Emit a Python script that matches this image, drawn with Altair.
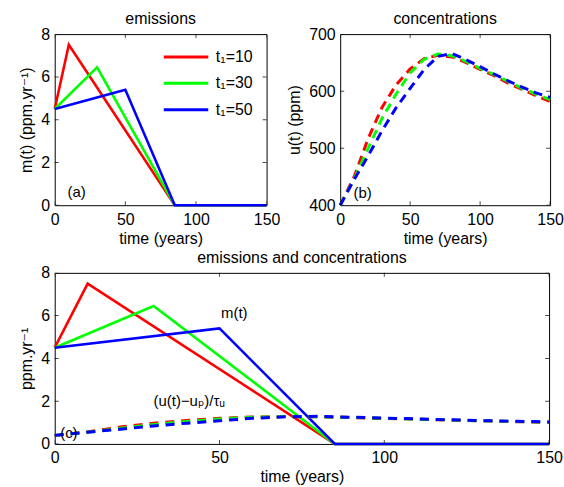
import altair as alt
import pandas as pd

FONT = "Liberation Sans, Arial, DejaVu Sans"

# ---------------- data ----------------
series = ["t₁=10", "t₁=30", "t₁=50"]
colors = ["#ff0000", "#00ff00", "#0000ff"]

# emissions m(t): start, peak at t1, zero at 85, zero until 150
em_years_10 = [0, 10, 85, 150]
em_years_30 = [0, 30, 85, 150]
em_years_50 = [0, 50, 85, 150]
em_10 = [4.5, 7.5, 0.0, 0.0]
em_30 = [4.5, 6.45, 0.0, 0.0]
em_50 = [4.5, 5.4, 0.0, 0.0]

# concentrations u(t) (ppm)
years = [0, 10, 20, 30, 40, 50, 60, 70, 80, 90, 100, 110, 120, 130, 140, 150]
u_10 = [400, 450, 517, 572, 611, 639, 657, 663, 660, 650, 638, 627, 614, 603, 592, 582]
u_30 = [400, 446, 500, 553, 595, 632, 656, 665, 662, 652, 640, 629, 617, 605, 595, 585]
u_50 = [400, 445, 487, 531, 571, 605, 638, 661, 666, 655, 643, 630, 618, 607, 597, 589]

# (u(t)-u_p)/tau_u  (ppm/yr)
r_10 = [0.40, 0.57, 0.79, 0.97, 1.10, 1.20, 1.26, 1.28, 1.27, 1.23, 1.19, 1.16, 1.11, 1.08, 1.04, 1.01]
r_30 = [0.40, 0.55, 0.73, 0.91, 1.05, 1.17, 1.25, 1.28, 1.27, 1.24, 1.20, 1.16, 1.12, 1.08, 1.05, 1.02]
r_50 = [0.40, 0.55, 0.69, 0.84, 0.97, 1.08, 1.20, 1.27, 1.29, 1.25, 1.21, 1.17, 1.13, 1.09, 1.06, 1.03]

x_ticks = [0, 50, 100, 150]
m_ticks = [0, 2, 4, 6, 8]
u_ticks = [400, 500, 600, 700]

# ---------------- tables ----------------
def long(xs_list, ys_list):
    rows = []
    for s, xs, ys in zip(series, xs_list, ys_list):
        for i, (x, y) in enumerate(zip(xs, ys)):
            rows.append({"t": x, "v": y, "s": s, "i": i})
    return pd.DataFrame(rows)

df_em = long([em_years_10, em_years_30, em_years_50], [em_10, em_30, em_50])
df_u = long([years] * 3, [u_10, u_30, u_50])
df_r = long([years] * 3, [r_10, r_30, r_50])
df_xt = pd.DataFrame({"t": x_ticks})
df_mt = pd.DataFrame({"v": m_ticks})
df_ut = pd.DataFrame({"v": u_ticks})
df_one = pd.DataFrame({"k": [0]})

H = 172
W_A, W_B, W_C = 213, 211, 497

xscale = alt.Scale(domain=[0, 150], nice=False, zero=False)
mscale = alt.Scale(domain=[0, 8], nice=False, zero=False)
uscale = alt.Scale(domain=[400, 700], nice=False, zero=False)


def color_enc(legend=None):
    if legend is None:
        return alt.Color("s:N", scale=alt.Scale(domain=series, range=colors), legend=None)
    return alt.Color("s:N", scale=alt.Scale(domain=series, range=colors), legend=legend)


def x_axis():
    return alt.Axis(values=x_ticks, title="time (years)", ticks=False, domain=False,
                    grid=False, labelPadding=6, titlePadding=3, labelFlush=False)


def y_axis(vals, title):
    return alt.Axis(values=vals, title=title, ticks=False, domain=False, grid=False,
                    labelPadding=5, titlePadding=6)


def X(ax):
    return alt.X("t:Q", scale=xscale, axis=ax)


def Y(scale, ax):
    return alt.Y("v:Q", scale=scale, axis=ax)


def inner_ticks(yscale, ydata, W, xa, ya):
    kw = dict(color="black", size=8, thickness=1, clip=True)
    tx_top = alt.Chart(df_xt).mark_tick(**kw).encode(x=X(xa), y=alt.value(0))
    tx_bot = alt.Chart(df_xt).mark_tick(**kw).encode(x=X(xa), y=alt.value(H))
    ty_l = alt.Chart(ydata).mark_tick(**kw).encode(y=Y(yscale, ya), x=alt.value(0))
    ty_r = alt.Chart(ydata).mark_tick(**kw).encode(y=Y(yscale, ya), x=alt.value(W))
    return [tx_top, tx_bot, ty_l, ty_r]


def ptitle(text):
    return alt.TitleParams(text, fontSize=16, font=FONT, fontWeight="normal", offset=-1,
                           color="black")


def note(text, x, y, align="center"):
    return alt.Chart(df_one).mark_text(text=text, font=FONT, fontSize=15, fontWeight="normal",
                                       color="black", align=align).encode(
        x=alt.datum(x), y=alt.datum(y))


# ---------- panel (a) ----------
xa_a = x_axis()
ya_a = y_axis(m_ticks, "m(t) (ppm.yr⁻¹)")
legend_a = alt.Legend(orient="none", legendX=108, legendY=15, title=None,
                      symbolType="stroke", symbolSize=2000, symbolStrokeWidth=3,
                      labelFontSize=16, labelFont=FONT, labelColor="black",
                      clipHeight=16, rowPadding=10.5, labelOffset=6)
lines_a = alt.Chart(df_em).mark_line(strokeWidth=2.6).encode(
    x=X(xa_a), y=Y(mscale, ya_a), color=color_enc(legend_a), order="i:Q")
panel_a = alt.layer(lines_a, note("(a)", 15.5, 0.6),
                    *inner_ticks(mscale, df_mt, W_A, xa_a, ya_a)).properties(
    width=W_A, height=H, title=ptitle("emissions"))

# ---------- panel (b) ----------
xa_b = x_axis()
ya_b = y_axis(u_ticks, "u(t)  (ppm)")
lines_b = alt.Chart(df_u).mark_line(strokeWidth=3, strokeDash=[9, 6]).encode(
    x=X(xa_b), y=Y(uscale, ya_b), color=color_enc(), order="i:Q")
panel_b = alt.layer(lines_b, note("(b)", 16, 421),
                    *inner_ticks(uscale, df_ut, W_B, xa_b, ya_b)).properties(
    width=W_B, height=H, title=ptitle("concentrations"))

# ---------- panel (c) ----------
xa_c = x_axis()
ya_c = y_axis(m_ticks, "ppm.yr⁻¹")
lines_c = alt.Chart(df_em).mark_line(strokeWidth=2.6).encode(
    x=X(xa_c), y=Y(mscale, ya_c), color=color_enc(), order="i:Q")
dash_c = alt.Chart(df_r).mark_line(strokeWidth=3, strokeDash=[9, 7]).encode(
    x=X(xa_c), y=Y(mscale, ya_c), color=color_enc(), order="i:Q")
panel_c = alt.layer(lines_c, dash_c,
                    note("(c)", 4.3, 0.5), note("m(t)", 54.5, 6.1),
                    note("(u(t)−uₚ)/τᵤ", 30, 2.0, align="left"),
                    *inner_ticks(mscale, df_mt, W_C, xa_c, ya_c)).properties(
    width=W_C, height=H, title=ptitle("emissions and concentrations"))

top = alt.hconcat(panel_a, panel_b, spacing=5).resolve_scale(
    color="independent").resolve_legend(color="independent")
chart = alt.vconcat(top, panel_c, spacing=2).resolve_scale(
    color="independent").resolve_legend(color="independent").properties(
    padding={"left": 18, "top": 9, "right": 0, "bottom": 2}
).configure_view(stroke="black", strokeWidth=1).configure_axis(
    labelFont=FONT, titleFont=FONT, labelFontSize=16, titleFontSize=16,
    titleFontWeight="normal", labelColor="black", titleColor="black"
)

chart.save("out.html", embed_options={"renderer": "svg", "actions": False})
